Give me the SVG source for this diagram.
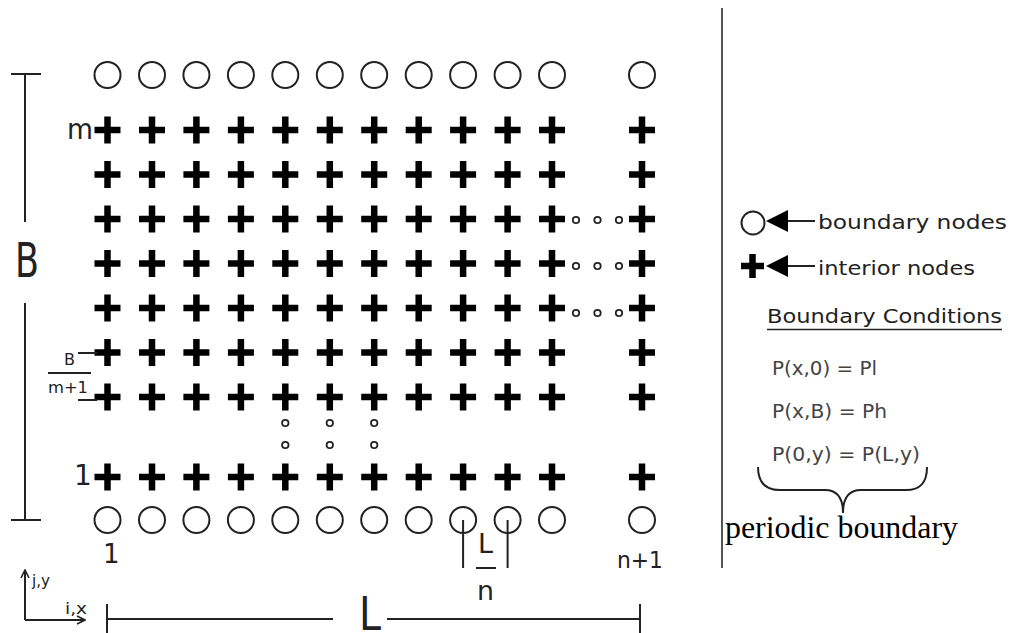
<svg xmlns="http://www.w3.org/2000/svg" xmlns:xlink="http://www.w3.org/1999/xlink" width="1014" height="633" viewBox="0 0 1014 633">
<style>
.ln{stroke:#222;stroke-width:2;fill:none}
.plus{stroke:#000;stroke-width:6.5;fill:none}
.bn{stroke:#222;stroke-width:2;fill:none}
.dot{stroke:#222;stroke-width:1.8;fill:none}
.t{font-family:"DejaVu Sans","Liberation Sans",sans-serif;fill:#222}
.g{font-family:"DejaVu Sans","Liberation Sans",sans-serif;fill:#444}
.s{font-family:"Liberation Serif","Times New Roman",serif;fill:#000}
</style>
<defs>
<path id="p" class="plus" d="M-13,0H13M0,-13.5V13.5"/>
<circle id="c" class="bn" r="13"/>
<circle id="d" class="dot" r="3.2"/>
<marker id="open" viewBox="0 0 10 10" refX="9" refY="5" markerWidth="10" markerHeight="10" markerUnits="userSpaceOnUse" orient="auto"><path d="M1,1L9,5L1,9" stroke="#222" stroke-width="1.6" fill="none"/></marker>
</defs>
<rect width="1014" height="633" fill="#fff"/>

<g id="boundary-top">
<use href="#c" x="107.5" y="75"/><use href="#c" x="152" y="75"/><use href="#c" x="196.4" y="75"/><use href="#c" x="240.9" y="75"/><use href="#c" x="285.3" y="75"/><use href="#c" x="329.8" y="75"/><use href="#c" x="374.2" y="75"/><use href="#c" x="418.7" y="75"/><use href="#c" x="463.1" y="75"/><use href="#c" x="507.6" y="75"/><use href="#c" x="552" y="75"/><use href="#c" x="642" y="75"/>
</g>
<g id="boundary-bottom">
<use href="#c" x="107.5" y="520"/><use href="#c" x="152" y="520"/><use href="#c" x="196.4" y="520"/><use href="#c" x="240.9" y="520"/><use href="#c" x="285.3" y="520"/><use href="#c" x="329.8" y="520"/><use href="#c" x="374.2" y="520"/><use href="#c" x="418.7" y="520"/><use href="#c" x="463.1" y="520"/><use href="#c" x="507.6" y="520"/><use href="#c" x="552" y="520"/><use href="#c" x="642" y="520"/>
</g>
<g id="interior">
<g id="row-m" transform="translate(0,130)"><use href="#p" x="107.5"/><use href="#p" x="152"/><use href="#p" x="196.4"/><use href="#p" x="240.9"/><use href="#p" x="285.3"/><use href="#p" x="329.8"/><use href="#p" x="374.2"/><use href="#p" x="418.7"/><use href="#p" x="463.1"/><use href="#p" x="507.6"/><use href="#p" x="552"/><use href="#p" x="642"/></g>
<g id="row-m1" transform="translate(0,174.5)"><use href="#p" x="107.5"/><use href="#p" x="152"/><use href="#p" x="196.4"/><use href="#p" x="240.9"/><use href="#p" x="285.3"/><use href="#p" x="329.8"/><use href="#p" x="374.2"/><use href="#p" x="418.7"/><use href="#p" x="463.1"/><use href="#p" x="507.6"/><use href="#p" x="552"/><use href="#p" x="642"/></g>
<g id="row-m2" transform="translate(0,219)"><use href="#p" x="107.5"/><use href="#p" x="152"/><use href="#p" x="196.4"/><use href="#p" x="240.9"/><use href="#p" x="285.3"/><use href="#p" x="329.8"/><use href="#p" x="374.2"/><use href="#p" x="418.7"/><use href="#p" x="463.1"/><use href="#p" x="507.6"/><use href="#p" x="552"/><use href="#p" x="642"/></g>
<g id="row-m3" transform="translate(0,263.5)"><use href="#p" x="107.5"/><use href="#p" x="152"/><use href="#p" x="196.4"/><use href="#p" x="240.9"/><use href="#p" x="285.3"/><use href="#p" x="329.8"/><use href="#p" x="374.2"/><use href="#p" x="418.7"/><use href="#p" x="463.1"/><use href="#p" x="507.6"/><use href="#p" x="552"/><use href="#p" x="642"/></g>
<g id="row-m4" transform="translate(0,308)"><use href="#p" x="107.5"/><use href="#p" x="152"/><use href="#p" x="196.4"/><use href="#p" x="240.9"/><use href="#p" x="285.3"/><use href="#p" x="329.8"/><use href="#p" x="374.2"/><use href="#p" x="418.7"/><use href="#p" x="463.1"/><use href="#p" x="507.6"/><use href="#p" x="552"/><use href="#p" x="642"/></g>
<g id="row-3" transform="translate(0,352.5)"><use href="#p" x="107.5"/><use href="#p" x="152"/><use href="#p" x="196.4"/><use href="#p" x="240.9"/><use href="#p" x="285.3"/><use href="#p" x="329.8"/><use href="#p" x="374.2"/><use href="#p" x="418.7"/><use href="#p" x="463.1"/><use href="#p" x="507.6"/><use href="#p" x="552"/><use href="#p" x="642"/></g>
<g id="row-2" transform="translate(0,397)"><use href="#p" x="107.5"/><use href="#p" x="152"/><use href="#p" x="196.4"/><use href="#p" x="240.9"/><use href="#p" x="285.3"/><use href="#p" x="329.8"/><use href="#p" x="374.2"/><use href="#p" x="418.7"/><use href="#p" x="463.1"/><use href="#p" x="507.6"/><use href="#p" x="552"/><use href="#p" x="642"/></g>
<g id="row-1" transform="translate(0,477)"><use href="#p" x="107.5"/><use href="#p" x="152"/><use href="#p" x="196.4"/><use href="#p" x="240.9"/><use href="#p" x="285.3"/><use href="#p" x="329.8"/><use href="#p" x="374.2"/><use href="#p" x="418.7"/><use href="#p" x="463.1"/><use href="#p" x="507.6"/><use href="#p" x="552"/><use href="#p" x="642"/></g>
</g>
<g id="ellipsis-dots">
<use href="#d" x="576" y="220"/><use href="#d" x="597.5" y="220"/><use href="#d" x="619" y="220"/>
<use href="#d" x="576" y="266"/><use href="#d" x="597.5" y="266"/><use href="#d" x="619" y="266"/>
<use href="#d" x="576" y="313"/><use href="#d" x="597.5" y="313"/><use href="#d" x="619" y="313"/>
<use href="#d" x="285.3" y="423"/><use href="#d" x="329.8" y="423"/><use href="#d" x="374.2" y="423"/>
<use href="#d" x="285.3" y="445"/><use href="#d" x="329.8" y="445"/><use href="#d" x="374.2" y="445"/>
</g>

<g id="connectors">
<path class="ln" d="M25,74V222M25,303V520M11,74H41M11,520H41"/>
<path class="ln" stroke-width="1.6" d="M78,353H97M78,400H97M48,373H91"/>
<path class="ln" stroke-width="1.6" d="M463.1,520V568M507.6,520V568M476,568H496"/>
<path class="ln" d="M107,604V633M640,604V633M107,619H333M387,619H640"/>
<path class="ln" d="M25,620V570" marker-end="url(#open)"/>
<path class="ln" d="M25,620H85" marker-end="url(#open)"/>
<path d="M722,8V568" stroke="#555" stroke-width="2"/>
<path class="ln" d="M787,221H815"/>
<path d="M766,221L788,210V232Z" fill="#000"/>
<path class="ln" d="M787,266H815"/>
<path d="M766,266L788,255V277Z" fill="#000"/>
<path class="ln" d="M758,467C758,482 765,490 780,490L825,490C836,490 843,497 843,513C843,497 850,490 861,490L906,490C921,490 927,482 927,467"/>
</g>

<g id="legend">
<circle cx="753" cy="223" r="11.5" class="bn"/>
<path class="plus" stroke-width="6" d="M741,266H764M752.5,254V278"/>
<text class="t" x="818" y="229" font-size="20" textLength="189" lengthAdjust="spacingAndGlyphs">boundary nodes</text>
<text class="t" x="818" y="275" font-size="20" textLength="157" lengthAdjust="spacingAndGlyphs">interior nodes</text>
<text class="t" x="767" y="323" font-size="19" textLength="235" lengthAdjust="spacingAndGlyphs">Boundary Conditions</text>
<path d="M767,329.5H1002" stroke="#222" stroke-width="1.6"/>
<text class="g" x="772" y="375" font-size="19" textLength="105" lengthAdjust="spacingAndGlyphs">P(x,0) = Pl</text>
<text class="g" x="772" y="418" font-size="19" textLength="115" lengthAdjust="spacingAndGlyphs">P(x,B) = Ph</text>
<text class="g" x="772" y="461" font-size="19" textLength="148" lengthAdjust="spacingAndGlyphs">P(0,y) = P(L,y)</text>
<text class="s" x="725" y="538" font-size="31" textLength="233" lengthAdjust="spacingAndGlyphs">periodic boundary</text>
</g>

<g id="labels">
<text class="t" x="15" y="277" font-size="48" textLength="24" lengthAdjust="spacingAndGlyphs">B</text>
<text class="t" x="67" y="139" font-size="28" textLength="26" lengthAdjust="spacingAndGlyphs">m</text>
<text class="t" x="74" y="485" font-size="28">1</text>
<text class="t" x="64" y="365" font-size="16">B</text>
<text class="t" x="48" y="393" font-size="16" textLength="40" lengthAdjust="spacingAndGlyphs">m+1</text>
<text class="t" x="103" y="563" font-size="26">1</text>
<text class="t" x="617" y="568" font-size="23" textLength="46" lengthAdjust="spacingAndGlyphs">n+1</text>
<text class="t" x="478" y="553" font-size="26" textLength="15" lengthAdjust="spacingAndGlyphs">L</text>
<text class="t" x="477" y="600" font-size="26" textLength="17" lengthAdjust="spacingAndGlyphs">n</text>
<text class="t" x="359" y="630" font-size="46" textLength="22" lengthAdjust="spacingAndGlyphs">L</text>
<text class="t" x="32" y="586" font-size="16" textLength="18" lengthAdjust="spacingAndGlyphs">j,y</text>
<text class="t" x="65" y="614" font-size="16" textLength="22" lengthAdjust="spacingAndGlyphs">i,x</text>
</g>
</svg>
